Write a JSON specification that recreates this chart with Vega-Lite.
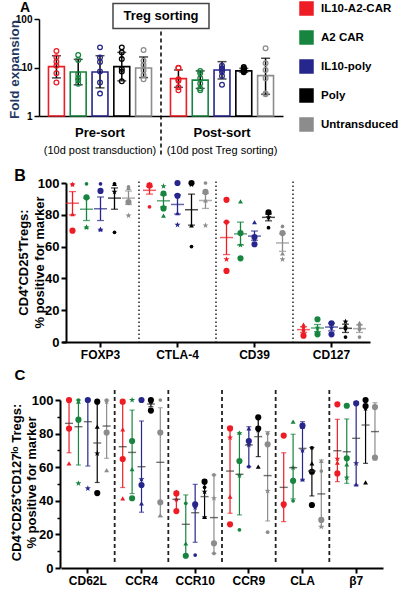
{
"$schema": "https://vega.github.io/schema/vega-lite/v6.json",
"width": 400, "height": 591, "autosize": "none", "padding": 0,
"config": {
 "view": {"stroke": null},
 "font": "Liberation Sans",
 "axis": {"grid": false, "domainColor": "#000", "tickColor": "#000", "labelColor": "#000", "titleColor": "#000", "labelFont": "Liberation Sans", "titleFont": "Liberation Sans", "labelFontWeight": "bold", "titleFontWeight": "bold", "domainWidth": 2, "tickWidth": 2},
 "legend": {"labelFont": "Liberation Sans"}
},
"datasets": {
 "aPts": [
  {"p":"Pre-sort","g":"IL10-A2-CAR","v":21.9},{"p":"Pre-sort","g":"IL10-A2-CAR","v":16.2},{"p":"Pre-sort","g":"IL10-A2-CAR","v":13.2},{"p":"Pre-sort","g":"IL10-A2-CAR","v":10.9},{"p":"Pre-sort","g":"IL10-A2-CAR","v":7.6},{"p":"Pre-sort","g":"IL10-A2-CAR","v":4.9},
  {"p":"Pre-sort","g":"A2 CAR","v":18.1},{"p":"Pre-sort","g":"A2 CAR","v":14.3},{"p":"Pre-sort","g":"A2 CAR","v":7.3},{"p":"Pre-sort","g":"A2 CAR","v":6.1},{"p":"Pre-sort","g":"A2 CAR","v":4.6},{"p":"Pre-sort","g":"A2 CAR","v":5.5},
  {"p":"Pre-sort","g":"IL10-poly","v":26},{"p":"Pre-sort","g":"IL10-poly","v":16},{"p":"Pre-sort","g":"IL10-poly","v":13},{"p":"Pre-sort","g":"IL10-poly","v":8.3},{"p":"Pre-sort","g":"IL10-poly","v":4.9},{"p":"Pre-sort","g":"IL10-poly","v":2.9},
  {"p":"Pre-sort","g":"Poly","v":26},{"p":"Pre-sort","g":"Poly","v":20.5},{"p":"Pre-sort","g":"Poly","v":14.9},{"p":"Pre-sort","g":"Poly","v":9.3},{"p":"Pre-sort","g":"Poly","v":8.3},{"p":"Pre-sort","g":"Poly","v":5.2},
  {"p":"Pre-sort","g":"Untransduced","v":23},{"p":"Pre-sort","g":"Untransduced","v":13.8},{"p":"Pre-sort","g":"Untransduced","v":11.3},{"p":"Pre-sort","g":"Untransduced","v":8.7},{"p":"Pre-sort","g":"Untransduced","v":7},{"p":"Pre-sort","g":"Untransduced","v":5.7},
  {"p":"Post-sort","g":"IL10-A2-CAR","v":9.9},{"p":"Post-sort","g":"IL10-A2-CAR","v":9.8},{"p":"Post-sort","g":"IL10-A2-CAR","v":5.7},{"p":"Post-sort","g":"IL10-A2-CAR","v":5.3},{"p":"Post-sort","g":"IL10-A2-CAR","v":3.9},{"p":"Post-sort","g":"IL10-A2-CAR","v":3.4},
  {"p":"Post-sort","g":"A2 CAR","v":8.5},{"p":"Post-sort","g":"A2 CAR","v":7.6},{"p":"Post-sort","g":"A2 CAR","v":6.0},{"p":"Post-sort","g":"A2 CAR","v":4.7},{"p":"Post-sort","g":"A2 CAR","v":3.7},{"p":"Post-sort","g":"A2 CAR","v":3.4},
  {"p":"Post-sort","g":"IL10-poly","v":10.9},{"p":"Post-sort","g":"IL10-poly","v":9.6},{"p":"Post-sort","g":"IL10-poly","v":8.9},{"p":"Post-sort","g":"IL10-poly","v":8.2},{"p":"Post-sort","g":"IL10-poly","v":6.7},{"p":"Post-sort","g":"IL10-poly","v":4.4},
  {"p":"Post-sort","g":"Poly","v":10.2},{"p":"Post-sort","g":"Poly","v":9.6},{"p":"Post-sort","g":"Poly","v":9.2},{"p":"Post-sort","g":"Poly","v":8.8},{"p":"Post-sort","g":"Poly","v":8.4},{"p":"Post-sort","g":"Poly","v":8.0},
  {"p":"Post-sort","g":"Untransduced","v":24.9},{"p":"Post-sort","g":"Untransduced","v":12.2},{"p":"Post-sort","g":"Untransduced","v":8.9},{"p":"Post-sort","g":"Untransduced","v":6.0},{"p":"Post-sort","g":"Untransduced","v":2.8},{"p":"Post-sort","g":"Untransduced","v":2.9}
 ],
 "aSum": [
  {"p":"Pre-sort","g":"IL10-A2-CAR","mean":10.4,"lo":6.1,"hi":17.5},
  {"p":"Pre-sort","g":"A2 CAR","mean":8.1,"lo":4.4,"hi":14.7},
  {"p":"Pre-sort","g":"IL10-poly","mean":8.1,"lo":3.8,"hi":17.5},
  {"p":"Pre-sort","g":"Poly","mean":10.4,"lo":5.3,"hi":20.5},
  {"p":"Pre-sort","g":"Untransduced","mean":9.8,"lo":6.2,"hi":16.5},
  {"p":"Post-sort","g":"IL10-A2-CAR","mean":5.9,"lo":3.9,"hi":8.9},
  {"p":"Post-sort","g":"A2 CAR","mean":5.5,"lo":3.7,"hi":8.5},
  {"p":"Post-sort","g":"IL10-poly","mean":8.9,"lo":5.8,"hi":13.2},
  {"p":"Post-sort","g":"Poly","mean":8.5,"lo":8.0,"hi":9.6},
  {"p":"Post-sort","g":"Untransduced","mean":6.8,"lo":2.8,"hi":15.5}
 ],
 "aNotes": [
  {"p":"Pre-sort","note":"(10d post transduction)"},
  {"p":"Post-sort","note":"(10d post Treg sorting)"}
 ],
 "bSep": [{"m":"CTLA-4"},{"m":"CD39"},{"m":"CD127"}],
 "cSep": [{"m":"CCR4"},{"m":"CCR10"},{"m":"CCR9"},{"m":"CLA"},{"m":"β7"}],
 "bPts": [
  {"m":"FOXP3","g":"IL10-A2-CAR","d":"d2","v":99},{"m":"FOXP3","g":"IL10-A2-CAR","d":"d4","v":99},{"m":"FOXP3","g":"IL10-A2-CAR","d":"d3","v":80.5},{"m":"FOXP3","g":"IL10-A2-CAR","d":"d1","v":70},
  {"m":"FOXP3","g":"A2 CAR","d":"d2","v":99.5},{"m":"FOXP3","g":"A2 CAR","d":"d1","v":91},{"m":"FOXP3","g":"A2 CAR","d":"d4","v":72},{"m":"FOXP3","g":"A2 CAR","d":"d3","v":72.5},
  {"m":"FOXP3","g":"IL10-poly","d":"d2","v":99.5},{"m":"FOXP3","g":"IL10-poly","d":"d1","v":95},{"m":"FOXP3","g":"IL10-poly","d":"d4","v":70.6},{"m":"FOXP3","g":"IL10-poly","d":"d3","v":71},
  {"m":"FOXP3","g":"Poly","d":"d2","v":99.5},{"m":"FOXP3","g":"Poly","d":"d3","v":99.5},{"m":"FOXP3","g":"Poly","d":"d4","v":94.5},{"m":"FOXP3","g":"Poly","d":"d2","v":69},
  {"m":"FOXP3","g":"Untransduced","d":"d2","v":97.5},{"m":"FOXP3","g":"Untransduced","d":"d3","v":97},{"m":"FOXP3","g":"Untransduced","d":"d1","v":88},{"m":"FOXP3","g":"Untransduced","d":"d4","v":79.5},
  {"m":"CTLA-4","g":"IL10-A2-CAR","d":"d3","v":99.5},{"m":"CTLA-4","g":"IL10-A2-CAR","d":"d1","v":98.5},{"m":"CTLA-4","g":"IL10-A2-CAR","d":"d2","v":98.5},{"m":"CTLA-4","g":"IL10-A2-CAR","d":"d2","v":85},
  {"m":"CTLA-4","g":"A2 CAR","d":"d4","v":98},{"m":"CTLA-4","g":"A2 CAR","d":"d1","v":93.4},{"m":"CTLA-4","g":"A2 CAR","d":"d1","v":84},{"m":"CTLA-4","g":"A2 CAR","d":"d3","v":79.5},
  {"m":"CTLA-4","g":"IL10-poly","d":"d1","v":100},{"m":"CTLA-4","g":"IL10-poly","d":"d1","v":92},{"m":"CTLA-4","g":"IL10-poly","d":"d3","v":81},{"m":"CTLA-4","g":"IL10-poly","d":"d4","v":73.7},
  {"m":"CTLA-4","g":"Poly","d":"d4","v":99},{"m":"CTLA-4","g":"Poly","d":"d1","v":100},{"m":"CTLA-4","g":"Poly","d":"d3","v":73.3},{"m":"CTLA-4","g":"Poly","d":"d2","v":60},
  {"m":"CTLA-4","g":"Untransduced","d":"d2","v":100},{"m":"CTLA-4","g":"Untransduced","d":"d1","v":94.4},{"m":"CTLA-4","g":"Untransduced","d":"d3","v":89},{"m":"CTLA-4","g":"Untransduced","d":"d4","v":73.3},
  {"m":"CD39","g":"IL10-A2-CAR","d":"d1","v":89.4},{"m":"CD39","g":"IL10-A2-CAR","d":"d5","v":75.4},{"m":"CD39","g":"IL10-A2-CAR","d":"d4","v":52},{"m":"CD39","g":"IL10-A2-CAR","d":"d1","v":44.7},
  {"m":"CD39","g":"A2 CAR","d":"d3","v":88.4},{"m":"CD39","g":"A2 CAR","d":"d1","v":68.5},{"m":"CD39","g":"A2 CAR","d":"d4","v":61},{"m":"CD39","g":"A2 CAR","d":"d1","v":52.6},
  {"m":"CD39","g":"IL10-poly","d":"d3","v":75.4},{"m":"CD39","g":"IL10-poly","d":"d1","v":66},{"m":"CD39","g":"IL10-poly","d":"d4","v":64.6},{"m":"CD39","g":"IL10-poly","d":"d1","v":61.5},
  {"m":"CD39","g":"Poly","d":"d1","v":81.6},{"m":"CD39","g":"Poly","d":"d3","v":81.6},{"m":"CD39","g":"Poly","d":"d4","v":78.4},{"m":"CD39","g":"Poly","d":"d2","v":71.9},
  {"m":"CD39","g":"Untransduced","d":"d2","v":72.7},{"m":"CD39","g":"Untransduced","d":"d1","v":68.5},{"m":"CD39","g":"Untransduced","d":"d3","v":55.7},{"m":"CD39","g":"Untransduced","d":"d4","v":52},
  {"m":"CD127","g":"IL10-A2-CAR","d":"d3","v":11},{"m":"CD127","g":"IL10-A2-CAR","d":"d4","v":9},{"m":"CD127","g":"IL10-A2-CAR","d":"d2","v":7},{"m":"CD127","g":"IL10-A2-CAR","d":"d1","v":4},
  {"m":"CD127","g":"A2 CAR","d":"d1","v":14.3},{"m":"CD127","g":"A2 CAR","d":"d4","v":9},{"m":"CD127","g":"A2 CAR","d":"d3","v":7},{"m":"CD127","g":"A2 CAR","d":"d1","v":4.8},
  {"m":"CD127","g":"IL10-poly","d":"d3","v":12},{"m":"CD127","g":"IL10-poly","d":"d1","v":11.8},{"m":"CD127","g":"IL10-poly","d":"d4","v":9},{"m":"CD127","g":"IL10-poly","d":"d1","v":4.8},
  {"m":"CD127","g":"Poly","d":"d4","v":12.8},{"m":"CD127","g":"Poly","d":"d3","v":10.3},{"m":"CD127","g":"Poly","d":"d2","v":8.3},{"m":"CD127","g":"Poly","d":"d2","v":3.1},
  {"m":"CD127","g":"Untransduced","d":"d3","v":12},{"m":"CD127","g":"Untransduced","d":"d4","v":10.3},{"m":"CD127","g":"Untransduced","d":"d2","v":8},{"m":"CD127","g":"Untransduced","d":"d2","v":3.1}
 ],
 "bSum": [
  {"m":"FOXP3","g":"IL10-A2-CAR","mean":87.3,"lo":80,"hi":94.6},{"m":"FOXP3","g":"A2 CAR","mean":83.5,"lo":76.4,"hi":90.5},{"m":"FOXP3","g":"IL10-poly","mean":83.8,"lo":76.4,"hi":91.2},{"m":"FOXP3","g":"Poly","mean":90.5,"lo":83.5,"hi":96.9},{"m":"FOXP3","g":"Untransduced","mean":90.5,"lo":86.5,"hi":95},
  {"m":"CTLA-4","g":"IL10-A2-CAR","mean":95.4,"lo":93,"hi":97.7},{"m":"CTLA-4","g":"A2 CAR","mean":88.8,"lo":85,"hi":92.5},{"m":"CTLA-4","g":"IL10-poly","mean":86.5,"lo":80.5,"hi":92.5},{"m":"CTLA-4","g":"Poly","mean":83.2,"lo":73.5,"hi":93},{"m":"CTLA-4","g":"Untransduced","mean":89,"lo":84,"hi":93.5},
  {"m":"CD39","g":"IL10-A2-CAR","mean":65.7,"lo":55,"hi":75.4},{"m":"CD39","g":"A2 CAR","mean":68,"lo":61,"hi":75.4},{"m":"CD39","g":"IL10-poly","mean":66.6,"lo":64,"hi":69.8},{"m":"CD39","g":"Poly","mean":78.4,"lo":76.2,"hi":80.5},{"m":"CD39","g":"Untransduced","mean":62.3,"lo":57,"hi":68},
  {"m":"CD127","g":"IL10-A2-CAR","mean":7.8,"lo":6,"hi":9.6},{"m":"CD127","g":"A2 CAR","mean":8.8,"lo":6.5,"hi":11},{"m":"CD127","g":"IL10-poly","mean":9.4,"lo":7,"hi":11.8},{"m":"CD127","g":"Poly","mean":8.6,"lo":6,"hi":11.2},{"m":"CD127","g":"Untransduced","mean":8.4,"lo":6,"hi":10.8}
 ],
 "cPts": [
  {"m":"CD62L","g":"IL10-A2-CAR","d":"d1","v":100},{"m":"CD62L","g":"IL10-A2-CAR","d":"d4","v":99.5},{"m":"CD62L","g":"IL10-A2-CAR","d":"d1","v":83},{"m":"CD62L","g":"IL10-A2-CAR","d":"d3","v":62.3},
  {"m":"CD62L","g":"A2 CAR","d":"d2","v":100},{"m":"CD62L","g":"A2 CAR","d":"d1","v":88.3},{"m":"CD62L","g":"A2 CAR","d":"d3","v":99},{"m":"CD62L","g":"A2 CAR","d":"d4","v":50.4},
  {"m":"CD62L","g":"IL10-poly","d":"d1","v":100},{"m":"CD62L","g":"IL10-poly","d":"d2","v":100},{"m":"CD62L","g":"IL10-poly","d":"d3","v":100},{"m":"CD62L","g":"IL10-poly","d":"d4","v":47.4},
  {"m":"CD62L","g":"Poly","d":"d1","v":99},{"m":"CD62L","g":"Poly","d":"d3","v":84.1},{"m":"CD62L","g":"Poly","d":"d4","v":68.2},{"m":"CD62L","g":"Poly","d":"d1","v":44.6},
  {"m":"CD62L","g":"Untransduced","d":"d2","v":100},{"m":"CD62L","g":"Untransduced","d":"d4","v":99},{"m":"CD62L","g":"Untransduced","d":"d1","v":80.6},{"m":"CD62L","g":"Untransduced","d":"d3","v":58.3},
  {"m":"CCR4","g":"IL10-A2-CAR","d":"d1","v":99},{"m":"CCR4","g":"IL10-A2-CAR","d":"d3","v":82.5},{"m":"CCR4","g":"IL10-A2-CAR","d":"d1","v":64.9},{"m":"CCR4","g":"IL10-A2-CAR","d":"d3","v":41.5},
  {"m":"CCR4","g":"A2 CAR","d":"d4","v":100},{"m":"CCR4","g":"A2 CAR","d":"d1","v":75.6},{"m":"CCR4","g":"A2 CAR","d":"d3","v":58.9},{"m":"CCR4","g":"A2 CAR","d":"d1","v":41.5},
  {"m":"CCR4","g":"IL10-poly","d":"d1","v":100},{"m":"CCR4","g":"IL10-poly","d":"d4","v":52.8},{"m":"CCR4","g":"IL10-poly","d":"d1","v":49.4},{"m":"CCR4","g":"IL10-poly","d":"d3","v":38.5},
  {"m":"CCR4","g":"Poly","d":"d1","v":100},{"m":"CCR4","g":"Poly","d":"d4","v":99.5},{"m":"CCR4","g":"Poly","d":"d2","v":98.4},{"m":"CCR4","g":"Poly","d":"d1","v":93.7},
  {"m":"CCR4","g":"Untransduced","d":"d2","v":100},{"m":"CCR4","g":"Untransduced","d":"d1","v":80.6},{"m":"CCR4","g":"Untransduced","d":"d1","v":39.1},{"m":"CCR4","g":"Untransduced","d":"d3","v":31.5},
  {"m":"CCR10","g":"IL10-A2-CAR","d":"d1","v":44.4},{"m":"CCR10","g":"IL10-A2-CAR","d":"d3","v":45.4},{"m":"CCR10","g":"IL10-A2-CAR","d":"d2","v":40.5},{"m":"CCR10","g":"IL10-A2-CAR","d":"d1","v":33.9},
  {"m":"CCR10","g":"A2 CAR","d":"d2","v":38.5},{"m":"CCR10","g":"A2 CAR","d":"d3","v":14.7},{"m":"CCR10","g":"A2 CAR","d":"d1","v":7.3},{"m":"CCR10","g":"A2 CAR","d":"d2","v":7.3},
  {"m":"CCR10","g":"IL10-poly","d":"d1","v":37.9},{"m":"CCR10","g":"IL10-poly","d":"d3","v":38.5},{"m":"CCR10","g":"IL10-poly","d":"d4","v":36},{"m":"CCR10","g":"IL10-poly","d":"d2","v":7.7},
  {"m":"CCR10","g":"Poly","d":"d1","v":51.4},{"m":"CCR10","g":"Poly","d":"d2","v":48},{"m":"CCR10","g":"Poly","d":"d4","v":45.4},{"m":"CCR10","g":"Poly","d":"d3","v":30.5},
  {"m":"CCR10","g":"Untransduced","d":"d2","v":55.4},{"m":"CCR10","g":"Untransduced","d":"d4","v":41.5},{"m":"CCR10","g":"Untransduced","d":"d1","v":14.7},{"m":"CCR10","g":"Untransduced","d":"d2","v":8.7},
  {"m":"CCR9","g":"IL10-A2-CAR","d":"d1","v":83.1},{"m":"CCR9","g":"IL10-A2-CAR","d":"d4","v":77.6},{"m":"CCR9","g":"IL10-A2-CAR","d":"d3","v":42.5},{"m":"CCR9","g":"IL10-A2-CAR","d":"d1","v":26},
  {"m":"CCR9","g":"A2 CAR","d":"d3","v":80.6},{"m":"CCR9","g":"A2 CAR","d":"d1","v":63.7},{"m":"CCR9","g":"A2 CAR","d":"d4","v":55},{"m":"CCR9","g":"A2 CAR","d":"d2","v":22.7},
  {"m":"CCR9","g":"IL10-poly","d":"d3","v":83.1},{"m":"CCR9","g":"IL10-poly","d":"d1","v":75.6},{"m":"CCR9","g":"IL10-poly","d":"d4","v":73.2},{"m":"CCR9","g":"IL10-poly","d":"d2","v":60.3},
  {"m":"CCR9","g":"Poly","d":"d1","v":89.7},{"m":"CCR9","g":"Poly","d":"d1","v":83},{"m":"CCR9","g":"Poly","d":"d4","v":82.1},{"m":"CCR9","g":"Poly","d":"d3","v":60.3},
  {"m":"CCR9","g":"Untransduced","d":"d2","v":80},{"m":"CCR9","g":"Untransduced","d":"d1","v":73.6},{"m":"CCR9","g":"Untransduced","d":"d4","v":45.9},{"m":"CCR9","g":"Untransduced","d":"d2","v":21.3},
  {"m":"CLA","g":"IL10-A2-CAR","d":"d1","v":78.8},{"m":"CLA","g":"IL10-A2-CAR","d":"d3","v":38.5},{"m":"CLA","g":"IL10-A2-CAR","d":"d1","v":37.9},{"m":"CLA","g":"IL10-A2-CAR","d":"d4","v":37},
  {"m":"CLA","g":"A2 CAR","d":"d3","v":87.1},{"m":"CLA","g":"A2 CAR","d":"d4","v":59.7},{"m":"CLA","g":"A2 CAR","d":"d1","v":51.9},{"m":"CLA","g":"A2 CAR","d":"d2","v":40},
  {"m":"CLA","g":"IL10-poly","d":"d1","v":84.7},{"m":"CLA","g":"IL10-poly","d":"d3","v":84},{"m":"CLA","g":"IL10-poly","d":"d4","v":70},{"m":"CLA","g":"IL10-poly","d":"d3","v":52.8},
  {"m":"CLA","g":"Poly","d":"d2","v":71.5},{"m":"CLA","g":"Poly","d":"d3","v":62.3},{"m":"CLA","g":"Poly","d":"d1","v":57.3},{"m":"CLA","g":"Poly","d":"d1","v":37.5},
  {"m":"CLA","g":"Untransduced","d":"d3","v":63.7},{"m":"CLA","g":"Untransduced","d":"d2","v":57.7},{"m":"CLA","g":"Untransduced","d":"d1","v":28.6},{"m":"CLA","g":"Untransduced","d":"d4","v":24.6},
  {"m":"β7","g":"IL10-A2-CAR","d":"d1","v":97.4},{"m":"β7","g":"IL10-A2-CAR","d":"d4","v":65},{"m":"β7","g":"IL10-A2-CAR","d":"d3","v":62.7},{"m":"β7","g":"IL10-A2-CAR","d":"d1","v":56.3},
  {"m":"β7","g":"A2 CAR","d":"d1","v":96.6},{"m":"β7","g":"A2 CAR","d":"d1","v":65.3},{"m":"β7","g":"A2 CAR","d":"d3","v":61.7},{"m":"β7","g":"A2 CAR","d":"d4","v":53.8},
  {"m":"β7","g":"IL10-poly","d":"d1","v":98},{"m":"β7","g":"IL10-poly","d":"d3","v":98.6},{"m":"β7","g":"IL10-poly","d":"d4","v":62.3},{"m":"β7","g":"IL10-poly","d":"d3","v":49.8},
  {"m":"β7","g":"Poly","d":"d1","v":100},{"m":"β7","g":"Poly","d":"d1","v":96.4},{"m":"β7","g":"Poly","d":"d4","v":95},{"m":"β7","g":"Poly","d":"d3","v":51},
  {"m":"β7","g":"Untransduced","d":"d4","v":96},{"m":"β7","g":"Untransduced","d":"d1","v":95.8},{"m":"β7","g":"Untransduced","d":"d2","v":66.3},{"m":"β7","g":"Untransduced","d":"d1","v":65.7}
 ],
 "cSum": [
  {"m":"CD62L","g":"IL10-A2-CAR","mean":86.1,"lo":68.6,"hi":100},{"m":"CD62L","g":"A2 CAR","mean":84.1,"lo":61.3,"hi":100},{"m":"CD62L","g":"IL10-poly","mean":87.1,"lo":60.7,"hi":100},{"m":"CD62L","g":"Poly","mean":74.4,"lo":50.9,"hi":99},{"m":"CD62L","g":"Untransduced","mean":84.5,"lo":65.3,"hi":100},
  {"m":"CCR4","g":"IL10-A2-CAR","mean":72.2,"lo":47.9,"hi":98},{"m":"CCR4","g":"A2 CAR","mean":68.8,"lo":44.3,"hi":94},{"m":"CCR4","g":"IL10-poly","mean":60.3,"lo":33.2,"hi":87.5},{"m":"CCR4","g":"Poly","mean":97.6,"lo":96,"hi":99},{"m":"CCR4","g":"Untransduced","mean":62.9,"lo":30.5,"hi":95.4},
  {"m":"CCR10","g":"IL10-A2-CAR","mean":40.9,"lo":33.5,"hi":45.4},{"m":"CCR10","g":"A2 CAR","mean":26,"lo":7.3,"hi":43.5},{"m":"CCR10","g":"IL10-poly","mean":32.9,"lo":15.3,"hi":49.8},{"m":"CCR10","g":"Poly","mean":42.5,"lo":30.5,"hi":52.4},{"m":"CCR10","g":"Untransduced","mean":30,"lo":8.7,"hi":55.4},
  {"m":"CCR9","g":"IL10-A2-CAR","mean":57.7,"lo":32.6,"hi":84.1},{"m":"CCR9","g":"A2 CAR","mean":55.8,"lo":31.6,"hi":80.6},{"m":"CCR9","g":"IL10-poly","mean":73.2,"lo":60.3,"hi":84.1},{"m":"CCR9","g":"Poly","mean":78.2,"lo":66.3,"hi":89.7},{"m":"CCR9","g":"Untransduced","mean":55,"lo":28,"hi":81.2},
  {"m":"CLA","g":"IL10-A2-CAR","mean":48,"lo":27.6,"hi":68.6},{"m":"CLA","g":"A2 CAR","mean":59.7,"lo":41.2,"hi":79.6},{"m":"CLA","g":"IL10-poly","mean":71.2,"lo":52.8,"hi":87.1},{"m":"CLA","g":"Poly","mean":57.7,"lo":42.9,"hi":71.8},{"m":"CLA","g":"Untransduced","mean":44.1,"lo":24.6,"hi":64.3},
  {"m":"β7","g":"IL10-A2-CAR","mean":69.8,"lo":51.4,"hi":88.5},{"m":"β7","g":"A2 CAR","mean":69.2,"lo":50.4,"hi":88.7},{"m":"β7","g":"IL10-poly","mean":77.2,"lo":49.4,"hi":99},{"m":"β7","g":"Poly","mean":85.1,"lo":62.3,"hi":100},{"m":"β7","g":"Untransduced","mean":81.2,"lo":64.3,"hi":98.4}
 ]
},
"layer": [
 {
  "layer": [
   {
    "data": {"name": "aSum"},
    "mark": {"type": "bar", "filled": false, "strokeWidth": 1.6},
    "encoding": {
     "x": {"field": "p", "type": "nominal", "sort": ["Pre-sort", "Post-sort"],
       "scale": {"domain": ["Pre-sort", "Post-sort"], "range": [39, 283], "paddingInner": 0, "paddingOuter": 0},
       "axis": {"orient": "bottom", "offset": -475, "title": null, "ticks": false, "tickSize": 0, "labelPadding": 10, "labelFontSize": 13, "labelAngle": 0, "domainWidth": 1.5}},
     "xOffset": {"field": "g", "type": "nominal", "scale": {"domain": ["IL10-A2-CAR", "A2 CAR", "IL10-poly", "Poly", "Untransduced"], "paddingInner": 0.27, "paddingOuter": 0.435}},
     "y": {"field": "mean", "type": "quantitative",
       "scale": {"type": "log", "domain": [1, 100], "range": [116, 19]},
       "axis": {"orient": "left", "offset": -39, "values": [1, 10, 100], "format": "d", "labelFontSize": 10, "tickSize": 5, "domainWidth": 1.5, "tickWidth": 1.5,
         "title": "Fold expansion", "titleColor": "#1f3864", "titleFontSize": 13.5, "titleAngle": -90, "titleBaseline": "middle", "titleAlign": "center", "titleX": -25, "titleY": 69}},
     "y2": {"datum": 1},
     "color": {"field": "g", "type": "nominal",
       "scale": {"domain": ["IL10-A2-CAR", "A2 CAR", "IL10-poly", "Poly", "Untransduced"], "range": ["#ee1c25", "#17853f", "#26268c", "#000000", "#8c8c8c"]},
       "legend": {"orient": "none", "legendX": 299, "legendY": 1, "title": null, "symbolType": "square", "symbolSize": 169, "labelFontSize": 11.5, "labelFontWeight": "bold", "rowPadding": 10, "labelOffset": 7,
         "encode": {
          "symbols": {"update": {"fill": {"scale": "color", "field": "value"}, "stroke": {"value": "#222"}, "strokeWidth": {"value": 1.5}, "shape": {"value": "square"}, "opacity": {"value": 1}}},
          "labels": {"update": {"fill": {"signal": "datum.value === 'IL10-poly' ? '#1f4e9c' : scale('color', datum.value)"}}}
         }}}
    }
   },
   {
    "data": {"name": "aSum"},
    "mark": {"type": "rule", "color": "#000", "strokeWidth": 1.5},
    "encoding": {
     "x": {"field": "p", "type": "nominal"},
     "xOffset": {"field": "g", "type": "nominal"},
     "y": {"field": "lo", "type": "quantitative"},
     "y2": {"field": "hi"}
    }
   },
   {
    "data": {"name": "aSum"},
    "mark": {"type": "tick", "color": "#000", "size": 9, "thickness": 1.5},
    "encoding": {
     "x": {"field": "p", "type": "nominal"},
     "xOffset": {"field": "g", "type": "nominal"},
     "y": {"field": "lo", "type": "quantitative"}
    }
   },
   {
    "data": {"name": "aSum"},
    "mark": {"type": "tick", "color": "#000", "size": 9, "thickness": 1.5},
    "encoding": {
     "x": {"field": "p", "type": "nominal"},
     "xOffset": {"field": "g", "type": "nominal"},
     "y": {"field": "hi", "type": "quantitative"}
    }
   },
   {
    "data": {"name": "aPts"},
    "mark": {"type": "point", "filled": false, "size": 22, "strokeWidth": 1.3, "opacity": 1},
    "encoding": {
     "x": {"field": "p", "type": "nominal"},
     "xOffset": {"field": "g", "type": "nominal"},
     "y": {"field": "v", "type": "quantitative"},
     "color": {"field": "g", "type": "nominal"}
    }
   },
   {
    "data": {"name": "aNotes"},
    "mark": {"type": "text", "fontSize": 11, "baseline": "middle", "color": "#000"},
    "encoding": {
     "x": {"field": "p", "type": "nominal"},
     "y": {"datum": 0.19},
     "text": {"field": "note"}
    }
   },
   {
    "data": {"values": [{"label": "Treg sorting"}]},
    "mark": {"type": "rule", "strokeDash": [4, 3], "strokeWidth": 1.5, "color": "#000"},
    "encoding": {
     "x": {"datum": "Post-sort", "bandPosition": 0},
     "y": {"datum": 55},
     "y2": {"datum": 0.14}
    }
   },
   {
    "data": {"values": [{"label": "Treg sorting"}]},
    "mark": {"type": "point", "shape": "M-1,-0.26L1,-0.26L1,0.26L-1,0.26Z", "size": 9216, "filled": true, "fill": "#fff", "stroke": "#444", "strokeWidth": 1.5, "opacity": 1},
    "encoding": {
     "x": {"datum": "Post-sort", "bandPosition": 0},
     "y": {"datum": 115}
    }
   },
   {
    "data": {"values": [{"label": "Treg sorting"}]},
    "mark": {"type": "text", "fontSize": 13, "fontWeight": "bold", "baseline": "middle", "color": "#000"},
    "encoding": {
     "x": {"datum": "Post-sort", "bandPosition": 0},
     "y": {"datum": 115},
     "text": {"field": "label"}
    }
   },
   {
    "data": {"values": [{"label": "A"}]},
    "mark": {"type": "text", "fontSize": 14, "fontWeight": "bold", "baseline": "middle", "dx": -14, "dy": -11, "color": "#000"},
    "encoding": {
     "x": {"datum": "Pre-sort", "bandPosition": 0},
     "y": {"datum": 100},
     "text": {"field": "label"}
    }
   }
  ]
 },
 {
  "layer": [
   {
    "data": {"name": "bSep"},
    "mark": {"type": "rule", "strokeDash": [1.5, 2.5], "strokeWidth": 1.5, "color": "#222"},
    "encoding": {
     "x": {"field": "m", "type": "nominal", "bandPosition": 0,
       "scale": {"domain": ["FOXP3", "CTLA-4", "CD39", "CD127"], "range": [62, 370], "paddingInner": 0, "paddingOuter": 0},
       "axis": {"orient": "bottom", "offset": -249, "title": null, "labelFontSize": 12, "labelAngle": 0, "tickSize": 5, "labelPadding": 2}},
     "y": {"datum": 101,
       "scale": {"domain": [0, 100], "range": [342, 183]},
       "axis": {"orient": "left", "offset": -66, "values": [0, 20, 40, 60, 80, 100], "labelFontSize": 13, "tickSize": 5,
         "title": ["CD4⁺CD25⁺Tregs:", "% positive for marker"], "titleFontSize": 13, "titleLineHeight": 16, "titleAngle": -90, "titleBaseline": "middle", "titleAlign": "center", "titleX": -43, "titleY": 262}},
     "y2": {"datum": 0}
    }
   },
   {
    "data": {"name": "bSum"},
    "mark": {"type": "rule", "strokeWidth": 1.3},
    "encoding": {
     "x": {"field": "m", "type": "nominal"},
     "xOffset": {"field": "g", "type": "nominal", "scale": {"domain": ["IL10-A2-CAR", "A2 CAR", "IL10-poly", "Poly", "Untransduced"], "paddingInner": 0, "paddingOuter": 0.25}},
     "y": {"field": "lo", "type": "quantitative"},
     "y2": {"field": "hi"},
     "color": {"field": "g", "type": "nominal", "legend": null}
    }
   },
   {
    "data": {"name": "bSum"},
    "mark": {"type": "tick", "size": 7, "thickness": 1.3},
    "encoding": {
     "x": {"field": "m", "type": "nominal"},
     "xOffset": {"field": "g", "type": "nominal"},
     "y": {"field": "lo", "type": "quantitative"},
     "color": {"field": "g", "type": "nominal", "legend": null}
    }
   },
   {
    "data": {"name": "bSum"},
    "mark": {"type": "tick", "size": 7, "thickness": 1.3},
    "encoding": {
     "x": {"field": "m", "type": "nominal"},
     "xOffset": {"field": "g", "type": "nominal"},
     "y": {"field": "hi", "type": "quantitative"},
     "color": {"field": "g", "type": "nominal", "legend": null}
    }
   },
   {
    "data": {"name": "bSum"},
    "mark": {"type": "tick", "size": 13, "thickness": 1.5},
    "encoding": {
     "x": {"field": "m", "type": "nominal"},
     "xOffset": {"field": "g", "type": "nominal"},
     "y": {"field": "mean", "type": "quantitative"},
     "color": {"field": "g", "type": "nominal", "legend": null}
    }
   },
   {
    "data": {"name": "bPts"},
    "mark": {"type": "point", "filled": true, "opacity": 1},
    "encoding": {
     "x": {"field": "m", "type": "nominal"},
     "xOffset": {"field": "g", "type": "nominal"},
     "y": {"field": "v", "type": "quantitative"},
     "color": {"field": "g", "type": "nominal", "legend": null},
     "shape": {"field": "d", "type": "nominal", "legend": null,
       "scale": {"domain": ["d1", "d2", "d3", "d4", "d5"], "range": ["circle", "circle", "triangle-up", "M0,-1L0.235,-0.324L0.951,-0.309L0.38,0.124L0.588,0.809L0,0.4L-0.588,0.809L-0.38,0.124L-0.951,-0.309L-0.235,-0.324Z", "circle"]}},
     "size": {"field": "d", "type": "nominal", "legend": null,
       "scale": {"type": "ordinal", "domain": ["d1", "d2", "d3", "d4", "d5"], "range": [38, 14, 24, 40, 26]}}
    }
   },
   {
    "data": {"values": [{"label": "B"}]},
    "mark": {"type": "text", "fontSize": 16, "fontWeight": "bold", "baseline": "middle", "dx": -42, "dy": -7, "color": "#000"},
    "encoding": {
     "x": {"datum": "FOXP3", "bandPosition": 0},
     "y": {"datum": 100},
     "text": {"field": "label"}
    }
   }
  ]
 },
 {
  "layer": [
   {
    "data": {"name": "cSep"},
    "mark": {"type": "rule", "strokeDash": [4, 3], "strokeWidth": 1.8, "color": "#222"},
    "encoding": {
     "x": {"field": "m", "type": "nominal", "bandPosition": 0,
       "scale": {"domain": ["CD62L", "CCR4", "CCR10", "CCR9", "CLA", "β7"], "range": [61, 383], "paddingInner": 0, "paddingOuter": 0},
       "axis": {"orient": "bottom", "offset": -23, "title": null, "labelFontSize": 12, "labelAngle": 0, "tickSize": 5, "labelPadding": 2}},
     "y": {"datum": 106,
       "scale": {"domain": [0, 100], "range": [568, 400]},
       "axis": {"orient": "left", "offset": -60, "values": [0, 20, 40, 60, 80, 100], "labelFontSize": 13, "tickSize": 5,
         "title": ["CD4⁺CD25⁺CD127ˡᵒ Tregs:", "% positive for marker"], "titleFontSize": 13, "titleLineHeight": 15, "titleAngle": -90, "titleBaseline": "middle", "titleAlign": "center", "titleX": -44, "titleY": 482}},
     "y2": {"datum": 2}
    }
   },
   {
    "data": {"name": "cSum"},
    "mark": {"type": "rule", "strokeWidth": 1.2},
    "encoding": {
     "x": {"field": "m", "type": "nominal"},
     "xOffset": {"field": "g", "type": "nominal", "scale": {"domain": ["IL10-A2-CAR", "A2 CAR", "IL10-poly", "Poly", "Untransduced"], "paddingInner": 0, "paddingOuter": 0.355}},
     "y": {"field": "lo", "type": "quantitative"},
     "y2": {"field": "hi"},
     "color": {"field": "g", "type": "nominal", "legend": null}
    }
   },
   {
    "data": {"name": "cSum"},
    "mark": {"type": "tick", "size": 5, "thickness": 1.2},
    "encoding": {
     "x": {"field": "m", "type": "nominal"},
     "xOffset": {"field": "g", "type": "nominal"},
     "y": {"field": "lo", "type": "quantitative"},
     "color": {"field": "g", "type": "nominal", "legend": null}
    }
   },
   {
    "data": {"name": "cSum"},
    "mark": {"type": "tick", "size": 5, "thickness": 1.2},
    "encoding": {
     "x": {"field": "m", "type": "nominal"},
     "xOffset": {"field": "g", "type": "nominal"},
     "y": {"field": "hi", "type": "quantitative"},
     "color": {"field": "g", "type": "nominal", "legend": null}
    }
   },
   {
    "data": {"name": "cPts"},
    "mark": {"type": "point", "filled": true, "opacity": 1},
    "encoding": {
     "x": {"field": "m", "type": "nominal"},
     "xOffset": {"field": "g", "type": "nominal"},
     "y": {"field": "v", "type": "quantitative"},
     "color": {"field": "g", "type": "nominal", "legend": null},
     "shape": {"field": "d", "type": "nominal", "legend": null,
       "scale": {"domain": ["d1", "d2", "d3", "d4", "d5"], "range": ["circle", "circle", "triangle-up", "M0,-1L0.235,-0.324L0.951,-0.309L0.38,0.124L0.588,0.809L0,0.4L-0.588,0.809L-0.38,0.124L-0.951,-0.309L-0.235,-0.324Z", "circle"]}},
     "size": {"field": "d", "type": "nominal", "legend": null,
       "scale": {"type": "ordinal", "domain": ["d1", "d2", "d3", "d4", "d5"], "range": [38, 14, 24, 40, 26]}}
    }
   },
   {
    "data": {"name": "cSum"},
    "mark": {"type": "tick", "size": 8, "thickness": 1.4, "color": "#333"},
    "encoding": {
     "x": {"field": "m", "type": "nominal"},
     "xOffset": {"field": "g", "type": "nominal"},
     "y": {"field": "mean", "type": "quantitative"}
    }
   },
   {
    "data": {"values": [{"label": "C"}]},
    "mark": {"type": "text", "fontSize": 15, "fontWeight": "bold", "baseline": "middle", "dx": -41, "dy": -25, "color": "#000"},
    "encoding": {
     "x": {"datum": "CD62L", "bandPosition": 0},
     "y": {"datum": 100},
     "text": {"field": "label"}
    }
   }
  ]
 },
 {
  "data": {"values": [{"v": 0}]},
  "mark": {"type": "tick", "opacity": 0},
  "encoding": {
   "y": {"field": "v", "type": "quantitative",
     "scale": {"domain": [0, 100], "range": [568, 400]},
     "axis": {"orient": "left", "offset": -60, "values": [10, 30, 50, 70, 90], "labels": false, "domain": false, "tickSize": 3, "tickWidth": 1.5, "title": null}}
  }
 }
],
"resolve": {
 "scale": {"x": "independent", "y": "independent", "xOffset": "independent"},
 "axis": {"x": "independent", "y": "independent"}
}
}
